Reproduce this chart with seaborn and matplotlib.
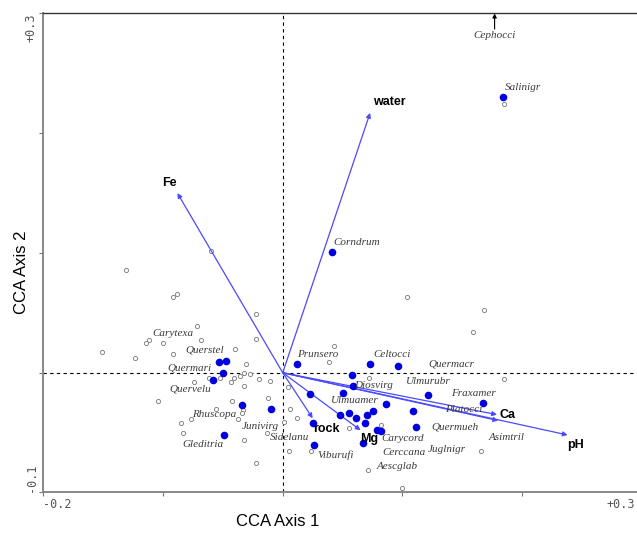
import numpy as np
import pandas as pd
import matplotlib
matplotlib.use("Agg")
import matplotlib.pyplot as plt
import seaborn as sns

# species scores (filled blue dots)
spec_x = [-0.053, -0.047, -0.050, -0.058, 0.012, -0.034, -0.010, 0.023, 0.025, -0.049,
          0.026, 0.073, 0.096, 0.058, 0.059, 0.050, 0.121, 0.086, 0.109, 0.075,
          0.070, 0.048, 0.055, 0.061, 0.069, 0.111, 0.079, 0.082, 0.067, 0.167,
          0.184, 0.041]
spec_y = [0.009, 0.010, 0.000, -0.006, 0.007, -0.027, -0.030, -0.018, -0.042, -0.052,
          -0.060, 0.007, 0.006, -0.002, -0.011, -0.017, -0.019, -0.026, -0.032, -0.032,
          -0.035, -0.035, -0.034, -0.038, -0.042, -0.045, -0.048, -0.049, -0.059, -0.025,
          0.230, 0.101]

# sample scores (small open circles)
samp_x = [-0.131, -0.092, -0.088, -0.060, -0.022, -0.072, -0.022, -0.112, -0.114, -0.100,
          -0.068, -0.151, -0.123, -0.092, -0.040, -0.031, -0.062, -0.052, -0.043, -0.041,
          -0.036, -0.032, -0.027, -0.020, -0.011, -0.074, -0.032, -0.012, 0.004, -0.104,
          -0.042, -0.056, -0.033, -0.034, 0.006, -0.077, -0.037, -0.085, 0.012, 0.001,
          -0.083, -0.013, -0.032, 0.005, -0.022, 0.043, 0.039, 0.072, 0.055, 0.082,
          0.024, 0.071, 0.100, 0.159, 0.185, 0.166, 0.104, 0.168, 0.185]
samp_y = [0.086, 0.063, 0.066, 0.102, 0.049, 0.039, 0.028, 0.027, 0.025, 0.025,
          0.027, 0.017, 0.012, 0.016, 0.020, 0.007, -0.004, -0.004, -0.008, -0.004,
          -0.003, 0.000, -0.001, -0.005, -0.007, -0.008, -0.011, -0.021, -0.012, -0.024,
          -0.024, -0.030, -0.031, -0.034, -0.030, -0.039, -0.039, -0.042, -0.038, -0.041,
          -0.050, -0.050, -0.056, -0.065, -0.075, 0.022, 0.009, -0.004, -0.046, -0.044,
          -0.065, -0.081, -0.096, 0.034, -0.005, -0.065, 0.063, 0.052, 0.224]

# species names
names = ["Salinigr", "Corndrum", "Carytexa", "Querstel", "Quermari", "Quervelu",
         "Rhuscopa", "Junivirg", "Sidelanu", "Gleditria", "Prunsero", "Celtocci",
         "Quermacr", "Ulmurubr", "Diosvirg", "Fraxamer", "Ulmuamer", "Platocci",
         "Quermueh", "Carycord", "Asimtril", "Viburufi", "Cerccana", "Juglnigr",
         "Aescglab"]
name_x = [0.201, 0.062, -0.092, -0.065, -0.078, -0.077, -0.057, -0.019, 0.006, -0.067,
          0.029, 0.091, 0.141, 0.122, 0.076, 0.159, 0.060, 0.151, 0.144, 0.100,
          0.187, 0.044, 0.101, 0.137, 0.096]
name_y = [0.238, 0.109, 0.033, 0.019, 0.004, -0.014, -0.035, -0.045, -0.054, -0.060,
          0.015, 0.015, 0.007, -0.007, -0.011, -0.017, -0.023, -0.031, -0.045, -0.055,
          -0.054, -0.069, -0.067, -0.064, -0.078]

# species outside the plotted range
off_name = "Cephocci"
off_x = 0.177
off_y = 0.282

# environmental variables (biplot arrows)
env = ["Fe", "water", "rock", "Mg", "Ca", "pH", ""]
env_x = [-0.088, 0.073, 0.025, 0.065, 0.179, 0.238, 0.180]
env_y = [0.150, 0.217, -0.038, -0.048, -0.035, -0.052, -0.040]
# label offsets in points (dx, dy, ha)
env_off = [(-6, 7, "center"), (2, 8, "left"), (0, -8, "left"),
           (0, -6, "left"), (2, 0, "left"), (0, -7, "left"), (0, 0, "left")]

xtick_labels = ["-0.2", "", "", "", "", "+0.3"]
ytick_labels = ["-0.1", "", "", "", "+0.3"]

sns.set_style("white")
plt.rcParams["font.family"] = ["Liberation Sans", "DejaVu Sans"]

fig = plt.figure(figsize=(6.37, 5.36), dpi=100)
ax = fig.add_axes([0.068, 0.0812, 0.9396, 0.8937])

ax.axhline(0, color="black", lw=0.8, ls=(0, (3, 3)), zorder=1)
ax.axvline(0, color="black", lw=0.8, ls=(0, (3, 3)), zorder=1)

samples = pd.DataFrame({"x": samp_x, "y": samp_y})
sns.scatterplot(data=samples, x="x", y="y", ax=ax, s=9, color="white",
                edgecolor="#777777", linewidth=0.6, zorder=2)

for name, ex, ey, (dx, dy, ha) in zip(env, env_x, env_y, env_off):
    ax.annotate("", xy=(ex, ey), xytext=(0, 0),
                arrowprops=dict(arrowstyle="-|>", color="#4a4aff", lw=0.9,
                                mutation_scale=7, shrinkA=0, shrinkB=0), zorder=3)
    if name:
        ax.annotate(name, xy=(ex, ey), xytext=(dx, dy), textcoords="offset points",
                    ha=ha, va="center", fontsize=9, fontweight="bold",
                    color="black", zorder=5)

species = pd.DataFrame({"x": spec_x, "y": spec_y})
sns.scatterplot(data=species, x="x", y="y", ax=ax, s=30, color="#0000e0",
                edgecolor="#0000e0", linewidth=0, zorder=4)

for n, x, y in zip(names, name_x, name_y):
    ax.text(x, y, n, ha="center", va="center", fontsize=8, style="italic",
            family="Liberation Serif", color="#3a3a3a", zorder=5)

ax.text(off_x, off_y, off_name, ha="center", va="center", fontsize=8,
        style="italic", family="Liberation Serif", color="#3a3a3a", zorder=5)
ax.annotate("", xy=(off_x, 0.3), xytext=(off_x, off_y + 0.005),
            arrowprops=dict(arrowstyle="-|>", color="black", lw=0.8,
                            mutation_scale=6, shrinkA=0, shrinkB=0),
            annotation_clip=False, zorder=5)

ax.set_xlim(-0.2, 0.3)
ax.set_ylim(-0.1, 0.3)
ax.set_xticks(np.arange(-0.2, 0.31, 0.1))
ax.set_yticks(np.arange(-0.1, 0.31, 0.1))
# the right end of the x axis falls just off the canvas, so its label is
# drawn separately against the figure edge
ax.set_xticklabels(xtick_labels[:-1] + [""])
ax.set_yticklabels(ytick_labels, rotation=90)
tick_font = dict(family="DejaVu Sans Mono", fontsize=8.5, color="#555555")
for lab in ax.get_xticklabels() + ax.get_yticklabels():
    lab.set_family(tick_font["family"])
    lab.set_fontsize(tick_font["fontsize"])
    lab.set_color(tick_font["color"])
ax.get_xticklabels()[0].set_ha("left")
yl = ax.get_yticklabels()
yl[0].set_va("bottom")
yl[-1].set_va("top")
ax.tick_params(axis="both", direction="out", length=3, width=0.8,
               color="#777777", pad=1, left=True, bottom=True)
fig.text(635 / 637, 1 - 498 / 536, xtick_labels[-1], ha="right", va="top",
         **tick_font)

ax.set_xlabel("")
ax.set_ylabel("")
for side in ["left", "bottom"]:
    ax.spines[side].set_color("#888888")
    ax.spines[side].set_linewidth(1.4)
ax.spines["top"].set_color("#333333")
ax.spines["top"].set_linewidth(1.0)
ax.spines["right"].set_visible(False)

fig.text(278 / 637, 1 - 521 / 536, "CCA Axis 1", ha="center", va="center",
         fontsize=12, color="black")
fig.text(22 / 637, 1 - 272 / 536, "CCA Axis 2", ha="center", va="center",
         rotation=90, fontsize=12, color="black")

fig.savefig("out.png", dpi=100)
